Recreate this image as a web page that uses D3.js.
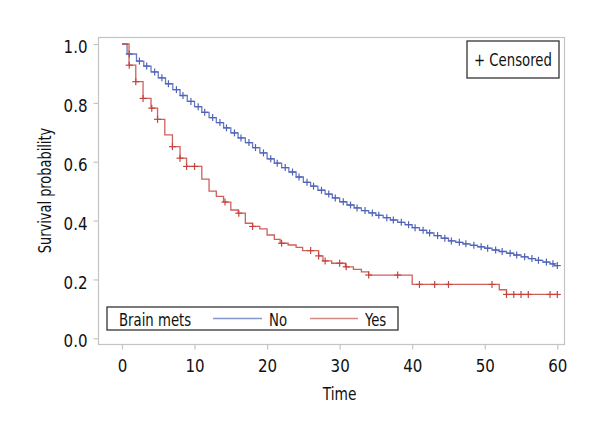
<!DOCTYPE html>
<html><head><meta charset="utf-8">
<script src="https://cdn.jsdelivr.net/npm/d3@7"></script>
<style>
body{margin:0;background:#fff;}
svg text{font-family:"DejaVu Sans Condensed","DejaVu Sans",sans-serif;font-stretch:condensed;fill:#111;}
</style></head>
<body><svg id="c" width="600" height="440"></svg>
<script>
// ---- data ----
const xTicks = [0,10,20,30,40,50,60];
const yTicks = [0.0,0.2,0.4,0.6,0.8,1.0];
const groups = ["No","Yes"];
const legendTitle = "Brain mets";
const censorLabel = "Censored";

const noTimes = [0,0.7,2,3,4,5,6,7,8,9,10,11,12,13,14,15,16,17,18,19,20,21,22,23,24,25,26,27,28,29,30,31,32,33,34,35,36,37,38,39,40,41,42,43,44,45,46,47,48,49,50,51,52,53,54,55,56,57,58,59,59.6];
const noSurv  = [1.0,0.966,0.942,0.925,0.905,0.885,0.865,0.845,0.825,0.805,0.787,0.768,0.750,0.733,0.715,0.698,0.681,0.665,0.648,0.630,0.610,0.595,0.580,0.565,0.548,0.530,0.517,0.503,0.490,0.477,0.464,0.453,0.443,0.434,0.426,0.418,0.410,0.402,0.394,0.386,0.376,0.367,0.358,0.349,0.340,0.331,0.326,0.321,0.316,0.311,0.306,0.300,0.295,0.289,0.283,0.277,0.271,0.265,0.259,0.253,0.247];
const noCensor = [1.0,2.4,3.4,4.5,5.5,6.4,7.5,8.4,9.5,10.5,11.4,12.5,13.5,14.4,15.5,16.4,17.5,18.4,19.5,20.5,21.4,22.5,23.5,24.4,25.5,26.4,27.5,28.5,29.4,30.5,31.5,32.4,33.5,34.5,35.4,36.5,37.4,38.5,39.5,40.4,41.5,42.4,43.5,44.5,45.4,46.5,47.4,48.5,49.5,50.4,51.5,52.4,53.5,54.4,55.5,56.5,57.4,58.5,59.4,60];

const yesTimes = [0,0.97,1.9,2.9,4.0,4.9,5.9,6.95,8.0,8.9,11.0,12.0,13.0,14.0,15.0,16.0,17.0,18.0,19.0,20.0,21.0,21.8,22.9,24.0,24.9,27.1,27.7,28.9,30.8,31.9,33.0,34.0,40.0,52.0,53.0];
const yesSurv  = [1.0,0.928,0.872,0.815,0.782,0.744,0.691,0.651,0.612,0.584,0.541,0.500,0.482,0.463,0.436,0.425,0.391,0.380,0.372,0.351,0.336,0.323,0.317,0.309,0.298,0.280,0.263,0.255,0.243,0.234,0.226,0.215,0.183,0.165,0.149];
const yesCensor = [1.0,1.9,2.9,4.1,4.9,6.95,8.0,8.9,10.0,14.2,16.1,18.0,22.0,26.0,27.1,28.0,30.0,30.9,34.0,38.0,41.0,43.1,45.0,51.0,53.0,54.0,55.0,56.0,59.0,60.0];

const colors = {No:"#4f63b8", Yes:"#c4453f"};
const legColors = {No:"#8797cc", Yes:"#d18782"};

// ---- layout ----
const svg = d3.select("#c");
const frame = {l:98, r:564, t:37, b:344};
const x = d3.scaleLinear().domain([0,60]).range([122,557.3]);
const y = d3.scaleLinear().domain([0,1]).range([338.3,44]);
const grey = "#c4c4c4";
const FS = 18;

// horizontally condense a text element around its anchor x
function squeeze(sel, k){
  sel.each(function(){
    const el = d3.select(this);
    const ax = +(el.attr("x")||0);
    const prev = el.attr("transform")||"";
    el.attr("transform", `${prev} translate(${ax},0) scale(${k},1) translate(${-ax},0)`);
  });
}

// frame
svg.append("rect").attr("x",frame.l+0.5).attr("y",frame.t+0.5)
  .attr("width",frame.r-frame.l).attr("height",frame.b-frame.t)
  .attr("fill","none").attr("stroke",grey).attr("stroke-width",1.2);

// axes
const xAxis = svg.append("g").attr("transform",`translate(0,${frame.b+0.5})`)
  .call(d3.axisBottom(x).tickValues(xTicks).tickSize(5).tickPadding(10).tickFormat(d3.format("d")));
const yAxis = svg.append("g").attr("transform",`translate(${frame.l+0.5},0)`)
  .call(d3.axisLeft(y).tickValues(yTicks).tickSize(5).tickPadding(6).tickFormat(d3.format(".1f")));
[xAxis,yAxis].forEach(g=>{
  g.attr("font-family",null).attr("font-size",null);
  g.select(".domain").remove();
  g.selectAll(".tick line").attr("stroke",grey).attr("stroke-width",1.2);
  g.selectAll(".tick text").attr("font-size",FS).attr("fill","#111").call(squeeze,0.93);
});
yAxis.selectAll(".tick text").attr("dy","0.48em");

// axis labels
svg.append("text").attr("x",(x(0)+x(60))/2).attr("y",400).attr("text-anchor","middle")
  .attr("font-size",FS).text("Time").call(squeeze,0.85);
svg.append("text").attr("transform",`translate(51,${(frame.t+frame.b)/2}) rotate(-90) scale(0.8,1)`)
  .attr("text-anchor","middle").attr("font-size",FS).text("Survival probability");

// curves
const plot = svg.append("g");
function drawGroup(times, surv, cens, color){
  const pts = times.map((t,i)=>[t,surv[i]]);
  pts.push([60, surv[surv.length-1]]);
  const line = d3.line().x(d=>x(d[0])).y(d=>y(d[1])).curve(d3.curveStepAfter);
  plot.append("path").attr("d",line(pts)).attr("fill","none")
    .attr("stroke",color).attr("stroke-width",1.3).attr("stroke-opacity",0.85);
  const sAt = t => { let v = surv[0]; for(let i=0;i<times.length;i++){ if(times[i]<=t) v=surv[i]; } return v; };
  const g = plot.append("g").attr("stroke",color).attr("stroke-width",1.2);
  cens.forEach(t=>{
    const cx = x(t), cy = y(sAt(t));
    g.append("line").attr("x1",cx-3.5).attr("x2",cx+3.5).attr("y1",cy).attr("y2",cy);
    g.append("line").attr("x1",cx).attr("x2",cx).attr("y1",cy-3.5).attr("y2",cy+3.5);
  });
}
drawGroup(noTimes,noSurv,noCensor,colors.No);
drawGroup(yesTimes,yesSurv,yesCensor,colors.Yes);

// censored legend
const cl = svg.append("g");
cl.append("rect").attr("x",467).attr("y",41).attr("width",92).attr("height",37)
  .attr("fill","#fff").attr("stroke","#333").attr("stroke-width",1.3);
cl.append("text").attr("x",474).attr("y",66).attr("font-size",FS).text("+ "+censorLabel).call(squeeze,0.82);

// group legend
const lg = svg.append("g");
lg.append("rect").attr("x",107).attr("y",307).attr("width",291).attr("height",23)
  .attr("fill","#fff").attr("stroke","#333").attr("stroke-width",1.3);
lg.append("text").attr("x",119).attr("y",326).attr("font-size",FS).text(legendTitle).call(squeeze,0.82);
const legItems = [{g:groups[0], x1:213, x2:262, tx:269},{g:groups[1], x1:310, x2:358, tx:365}];
legItems.forEach(it=>{
  lg.append("line").attr("x1",it.x1).attr("x2",it.x2).attr("y1",318.5).attr("y2",318.5)
    .attr("stroke",legColors[it.g]).attr("stroke-width",1.5);
  lg.append("text").attr("x",it.tx).attr("y",326).attr("font-size",FS).text(it.g).call(squeeze,0.82);
});
</script></body></html>
